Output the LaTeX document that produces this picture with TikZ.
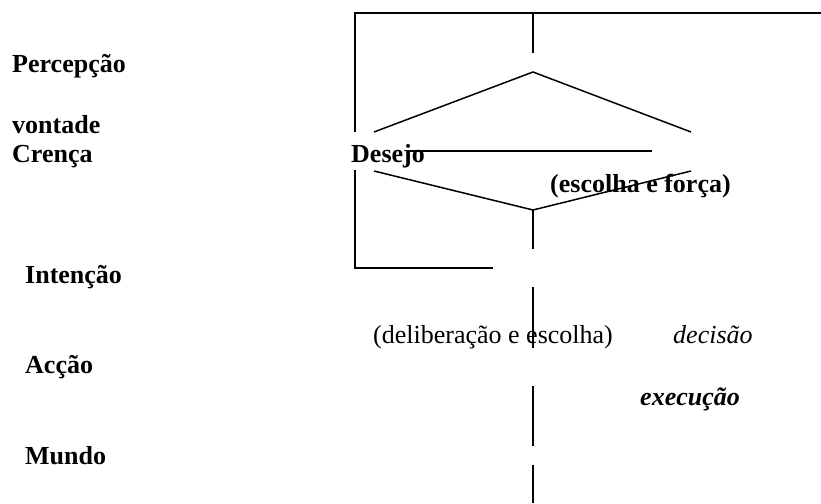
\documentclass[tikz,border=0pt]{standalone}
\usepackage{fontspec}
\setmainfont{Liberation Serif}
\begin{document}
\begin{tikzpicture}[x=1pt,y=-1pt,
  txt/.style={anchor=base west,inner sep=0pt,font=\fontsize{26}{30}\selectfont},
  bld/.style={txt,font=\fontsize{26}{30}\selectfont\bfseries},
  ln/.style={line width=1.5pt,line cap=butt}]
\useasboundingbox (0,0) rectangle (821,503);
% text
\node[bld] (perc) at (12,72) {Percepção};
\node[bld] (vont) at (12,133) {vontade};
\node[bld] (cren) at (12,162) {Crença};
\node[bld] (des) at (351,162) {Desejo};
\node[bld] (esc) at (550,192) {(escolha e força)};
\node[bld] (int) at (25,283) {Intenção};
\node[txt] (delib) at (373,343) {(deliberação e escolha)};
\node[txt,font=\fontsize{26}{30}\selectfont\itshape] (dec) at (673,343) {decisão};
\node[bld] (acc) at (25,373) {Acção};
\node[txt,font=\fontsize{26}{30}\selectfont\bfseries\itshape] (exe) at (640,405) {execução};
\node[bld] (mun) at (25,464) {Mundo};
% coordinates
\coordinate (tl) at (355,13);
\coordinate (tr) at (821,13);
\coordinate (lv1) at (355,132);
\coordinate (lv2) at (355,170);
\coordinate (bl) at (355,268);
\coordinate (br) at (493,268);
\coordinate (ct) at (533,13);
\coordinate (c1) at (533,53);
\coordinate (apex) at (533,72);
\coordinate (ul) at (374,132);
\coordinate (ur) at (691,132);
\coordinate (ml) at (410,151);
\coordinate (mr) at (652,151);
\coordinate (ll) at (374,171);
\coordinate (lr) at (691,171);
\coordinate (bot) at (533,210);
\coordinate (c2) at (533,249);
\coordinate (c3) at (533,287);
\coordinate (c4) at (533,348);
\coordinate (c5) at (533,386);
\coordinate (c6) at (533,446);
\coordinate (c7) at (533,465);
\coordinate (c8) at (533,503);
% lines
\draw[ln] (lv1) -- (tl) -- (tr);
\draw[ln] (lv2) -- (bl) -- (br);
\draw[ln] (ct) -- (c1);
\draw[ln] (ul) -- (apex) -- (ur);
\draw[ln] (ml) -- (mr);
\draw[ln] (ll) -- (bot) -- (lr);
\draw[ln] (bot) -- (c2);
\draw[ln] (c3) -- (c4);
\draw[ln] (c5) -- (c6);
\draw[ln] (c7) -- (c8);
\end{tikzpicture}
\end{document}
